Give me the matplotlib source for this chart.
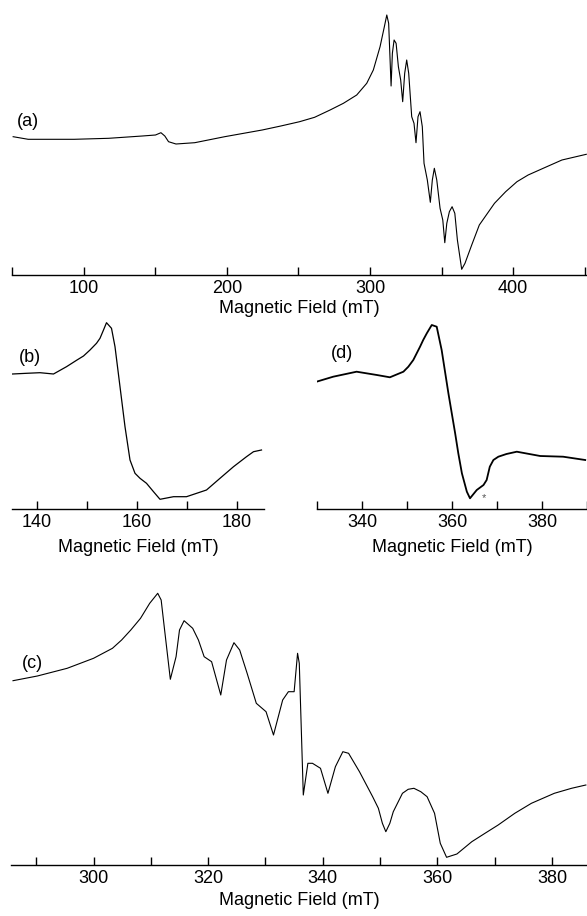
import numpy as np
import matplotlib
matplotlib.use('Agg')
import matplotlib.pyplot as plt
from matplotlib.ticker import MultipleLocator

plt.rcParams['font.family'] = ['Liberation Sans', 'DejaVu Sans']

#Data (arbitrary signal units)
#(a) full sweep
field_a = [50.8, 61.3, 93.4, 117.5, 141, 150.2, 154, 156.7, 159.3, 164.5, 177.6, 198.5,
           211, 224.7, 237.7, 250.8, 261.3, 272.1, 281.4, 290.7, 297.7, 302.3, 307, 310,
           311.7, 313, 314, 314.7, 315.6, 316.8, 318.2, 319.8, 321.4, 322.8, 324.2, 325.6,
           327, 329.1, 330.7, 332.1, 333.5, 334.9, 336.5, 337.7, 340, 342.1, 343.5, 344.9,
           346.6, 348.9, 350.8, 352.2, 353.6, 355.4, 357.3, 359.2, 361, 364, 366.3, 371,
           376.3, 386.9, 394.7, 402.6, 410.4, 420.9, 434, 451]
signal_a = [138.3, 135.7, 135.7, 136.7, 139, 140, 142.3, 139, 133.3, 131, 132.3, 138.3,
            141.5, 145, 149, 153.3, 157.7, 165, 171.7, 180, 191.7, 205, 228.3, 248.3,
            260, 251.7, 215, 189, 221.7, 235, 231.7, 208.3, 195, 173.3, 201.7, 215,
            201.7, 158.3, 151.7, 132.3, 158.3, 163.3, 148.3, 111.7, 95, 72.7, 95, 106.7,
            95, 66.7, 55, 32.3, 51.7, 63.3, 68.3, 61.7, 35, 5.7, 11.7, 30,
            50, 71.7, 83.3, 93.3, 100, 106.7, 115, 120.7]

#(b) half-field region
field_b = [135.1, 137.9, 140.6, 143.3, 145.9, 148, 149.3, 150.6, 151.9, 152.6, 153.3,
           153.9, 154.9, 155.6, 156.6, 157.6, 158.6, 159.6, 160.6, 161.9, 163.3, 164.6,
           167.3, 169.9, 173.9, 176.6, 179.3, 181.9, 183.3, 184.9]
signal_b = [135, 135.7, 136.3, 135, 142.3, 149, 153, 159, 165.7, 170.7, 179,
            186.3, 180.7, 162.3, 122.3, 82.3, 49, 35.7, 30.7, 25.7, 17.3, 9.7,
            12.3, 12.3, 19, 30.7, 42.3, 52.3, 57.3, 59]

#(d)
field_d = [329.9, 333.6, 338.8, 343.3, 346.2, 349.2, 350.3, 351.4, 352.9, 353.6, 354.4,
           355.5, 356.6, 357.7, 359.2, 360.7, 361.4, 362.2, 363.3, 364, 365.5, 367, 367.7,
           368.4, 369.2, 370.3, 372.1, 374.4, 379.6, 384.7, 389.6]
signal_d = [127.3, 132.3, 137.3, 134, 131.7, 137.3, 142.3, 149, 162.3, 169, 175.7,
            184, 182.3, 159, 115.7, 75.7, 55.7, 35.7, 17.3, 10.7, 19, 24, 29,
            42.3, 49, 52.3, 55, 57.3, 53, 52.3, 49]

#(c) g~2 region expanded
field_c = [285.95, 290.2, 295.4, 300, 303.3, 304.9, 306.5, 308.2, 309.8, 311.2, 311.8,
           312.4, 313.4, 314.4, 315, 315.8, 317.3, 318.3, 319.3, 320.6, 322.2, 323.2,
           324.5, 325.5, 326.8, 328.4, 330.1, 331.4, 333, 334, 335, 335.6, 335.9, 336.6,
           337.4, 338.2, 339.6, 340.9, 342.2, 343.5, 344.5, 346.4, 348.7, 349.7, 350.4,
           351, 351.7, 352.3, 353.9, 354.9, 355.9, 357.1, 358.2, 359.5, 360.5, 361.6,
           363.4, 366, 368.3, 370.6, 373.5, 376.4, 380.4, 383.4, 385.9]
signal_c = [184.3, 189, 196.7, 206.7, 216.7, 225, 235, 246.7, 261.7, 271.7, 265,
            235, 185.7, 208.3, 235, 244.3, 236.7, 225, 208.3, 203.3, 170, 205,
            222.3, 215, 191.7, 161.7, 153.3, 130, 165, 173.3, 173.3, 211.7, 201.7, 70,
            101.7, 101.7, 96.7, 71.7, 98.3, 113.3, 111.7, 93.3, 68.3, 56.7, 41.7,
            33.3, 41.7, 53.3, 71.7, 75.7, 76.7, 73.3, 68.3, 51.7, 21.7, 7.7,
            11, 23.3, 31.7, 40, 51.7, 61.7, 71.7, 76.7, 80]

W, H = 587, 916
fig = plt.figure(figsize=(W / 100, H / 100), dpi=100)


def make_axes(left, right, axis_y, height, labelpad):
    ax = fig.add_axes([left / W, (H - axis_y) / H, (right - left) / W, height / H])
    ax.patch.set_visible(False)
    for s in ['top', 'left', 'right']:
        ax.spines[s].set_visible(False)
    ax.spines['bottom'].set_linewidth(1.0)
    ax.set_yticks([])
    ax.tick_params(axis='x', which='both', direction='in', length=6, width=1.0,
                   labelsize=13, pad=3.5)
    ax.set_ylim(0, height)
    ax.set_xlabel('Magnetic Field (mT)', fontsize=13, labelpad=labelpad)
    return ax


def trace(ax, x, y, lw):
    ax.plot(x, y, color='black', lw=lw, solid_joinstyle='round')


#(a)
ax_a = make_axes(12, 587, 275, 265, 2)
trace(ax_a, field_a, signal_a, 0.8)
ax_a.set_xlim(50, 451.5)
ax_a.xaxis.set_major_locator(MultipleLocator(100))
ax_a.xaxis.set_minor_locator(MultipleLocator(50))
ax_a.text(61, 153, '(a)', fontsize=13, ha='center', va='center')

#(b)
ax_b = make_axes(12, 264, 509, 200, 6)
trace(ax_b, field_b, signal_b, 0.9)
ax_b.set_xlim(135, 185.4)
ax_b.xaxis.set_major_locator(MultipleLocator(20))
ax_b.xaxis.set_minor_locator(MultipleLocator(10))
ax_b.text(138.6, 151, '(b)', fontsize=13, ha='center', va='center')

#(d)
ax_d = make_axes(317, 587, 509, 200, 6)
trace(ax_d, field_d, signal_d, 1.3)
ax_d.set_xlim(330, 390)
ax_d.xaxis.set_major_locator(MultipleLocator(20))
ax_d.xaxis.set_minor_locator(MultipleLocator(10))
ax_d.text(335.6, 156, '(d)', fontsize=13, ha='center', va='center')
ax_d.text(367.1, 11, '*', fontsize=8, color='#555555', ha='center', va='center')

#(c)
ax_c = make_axes(11, 587, 865, 285, 4)
trace(ax_c, field_c, signal_c, 0.8)
ax_c.set_xlim(285.6, 386.1)
ax_c.xaxis.set_major_locator(MultipleLocator(20))
ax_c.xaxis.set_minor_locator(MultipleLocator(10))
ax_c.text(289.3, 202, '(c)', fontsize=13, ha='center', va='center')

fig.savefig('out.png', dpi=100)
